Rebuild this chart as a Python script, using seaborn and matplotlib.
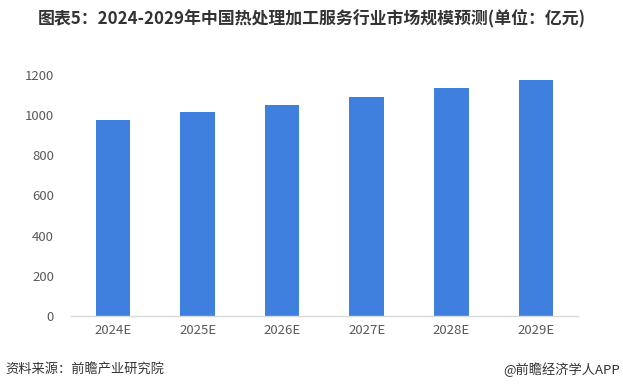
import matplotlib
matplotlib.use('Agg')
import matplotlib.pyplot as plt
import seaborn as sns
import pandas as pd

years = ['2024E', '2025E', '2026E', '2027E', '2028E', '2029E']
market_size = [976, 1016, 1051, 1091, 1135, 1175]

sns.set_theme(style='white')
plt.rcParams['font.family'] = ['Noto Sans CJK SC', 'DejaVu Sans']

df = pd.DataFrame({'year': years, 'size': market_size})

fig = plt.figure(figsize=(6.23, 3.92), dpi=100)
ax = fig.add_axes([0.1135, 0.194, 0.8145, 0.615])
sns.barplot(data=df, x='year', y='size', color='#3F80DE', width=0.41,
            saturation=1, linewidth=0, ax=ax)

ax.set_xlim(-0.5, 5.5)
ax.set_ylim(0, 1200)
ax.set_yticks(range(0, 1201, 200))
ax.set_xlabel('')
ax.set_ylabel('')
for s in ['top', 'right', 'left']:
    ax.spines[s].set_visible(False)
ax.spines['bottom'].set_color('#D9D9D9')
ax.spines['bottom'].set_linewidth(1)
ax.tick_params(axis='both', length=0, labelsize=9.5, colors='#595959')
ax.tick_params(axis='y', pad=12)
ax.tick_params(axis='x', pad=6)

fig.text(0.5, 0.953, '图表5：2024-2029年中国热处理加工服务行业市场规模预测(单位：亿元)',
         ha='center', va='center', fontsize=12.2, fontweight='bold', color='#333333')
fig.text(0.008, 0.057, '资料来源：前瞻产业研究院', ha='left', va='center',
         fontsize=9.5, color='#333333')
fig.text(0.995, 0.057, '@前瞻经济学人APP', ha='right', va='center',
         fontsize=9.5, color='#333333')

fig.savefig('out.png', dpi=100)
